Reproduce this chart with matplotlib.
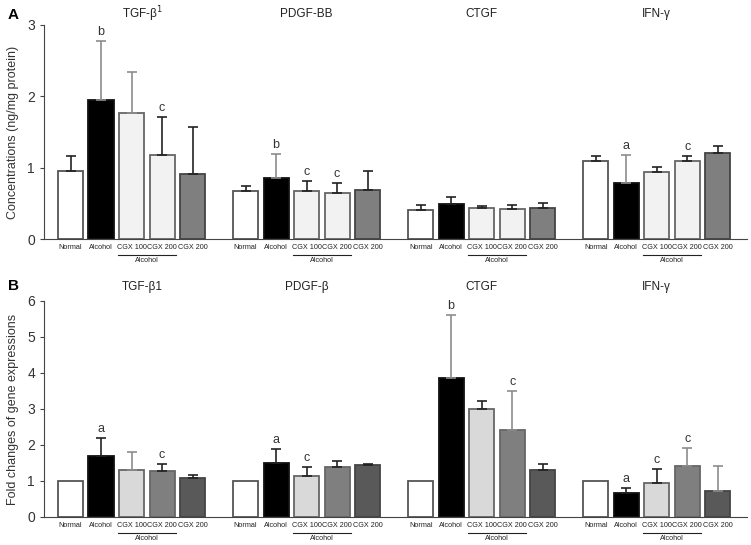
import matplotlib
matplotlib.use("Agg")
import matplotlib.pyplot as plt
import numpy as np

plt.rcParams['font.family'] = ['Liberation Sans', 'DejaVu Sans']

categories = ["Normal", "Alcohol", "CGX 100", "CGX 200", "CGX 200"]

# Panel A: protein concentrations (ng/mg protein)
a_titles = ["TGF-β$^1$", "PDGF-BB", "CTGF", "IFN-γ"]
a_mean = {
    "TGF-β1": [0.95, 1.95, 1.77, 1.18, 0.91],
    "PDGF-BB": [0.67, 0.855, 0.67, 0.65, 0.68],
    "CTGF": [0.40, 0.49, 0.43, 0.42, 0.44],
    "IFN-γ": [1.09, 0.79, 0.94, 1.09, 1.20],
}
a_top = {
    "TGF-β1": [1.16, 2.78, 2.34, 1.71, 1.57],
    "PDGF-BB": [0.74, 1.19, 0.81, 0.79, 0.96],
    "CTGF": [0.48, 0.59, 0.46, 0.48, 0.51],
    "IFN-γ": [1.16, 1.18, 1.01, 1.16, 1.30],
}
a_sig = {
    "TGF-β1": ["", "b", "", "c", ""],
    "PDGF-BB": ["", "b", "c", "c", ""],
    "CTGF": ["", "", "", "", ""],
    "IFN-γ": ["", "a", "", "c", ""],
}

# Panel B: fold changes of gene expressions
b_titles = ["TGF-β1", "PDGF-β", "CTGF", "IFN-γ"]
b_mean = {
    "TGF-β1": [1.0, 1.69, 1.31, 1.29, 1.08],
    "PDGF-β": [1.0, 1.51, 1.14, 1.40, 1.44],
    "CTGF": [1.0, 3.87, 3.01, 2.41, 1.31],
    "IFN-γ": [1.0, 0.68, 0.94, 1.42, 0.72],
}
b_top = {
    "TGF-β1": [1.0, 2.19, 1.80, 1.48, 1.17],
    "PDGF-β": [1.0, 1.88, 1.38, 1.55, 1.46],
    "CTGF": [1.0, 5.62, 3.21, 3.49, 1.47],
    "IFN-γ": [1.0, 0.81, 1.32, 1.93, 1.43],
}
b_sig = {
    "TGF-β1": ["", "a", "", "c", ""],
    "PDGF-β": ["", "a", "c", "", ""],
    "CTGF": ["", "b", "", "c", ""],
    "IFN-γ": ["", "a", "c", "c", ""],
}

a_colors = ["white", "black", "#f2f2f2", "#f2f2f2", "#7f7f7f"]
b_colors = ["white", "black", "#d9d9d9", "#7f7f7f", "#595959"]
edge_colors = ["#555555", "#111111", "#666666", "#666666", "#444444"]

GSTEP = 5.74
WIDTH = 0.82
SMALL_FS = 5.2

fig = plt.figure(figsize=(7.51, 5.45), dpi=100)
W, H = 751, 545


def make_axes(top_px, bottom_px):
    return fig.add_axes([44 / W, 1 - bottom_px / H, (747 - 44) / W, (bottom_px - top_px) / H])


def draw_panel(ax, titles, keys, means, tops, sigs, colors, ymax, ylabel, err_gray, unit_px,
               title_gap):
    px = 1.0 / unit_px  # data units per pixel
    for g, key in enumerate(keys):
        xs = g * GSTEP + np.arange(5)
        vals = means[key]
        ax.bar(xs, vals, width=WIDTH, color=colors, edgecolor=edge_colors,
               linewidth=1.3, zorder=2)
        for i, x in enumerate(xs):
            top = tops[key][i]
            if top > vals[i] + 1e-6:
                ec = "#8c8c8c" if (g, i) in err_gray else "#222222"
                ax.errorbar([x], [vals[i]], yerr=[[0], [top - vals[i]]], fmt="none",
                            ecolor=ec, elinewidth=1.2, capsize=3.5, capthick=1.2, zorder=3)
            s = sigs[key][i]
            if s:
                ax.text(x, top + 3 * px, s, ha="center", va="bottom",
                        fontsize=9, color="#333333")
        # category labels
        for i, x in enumerate(xs):
            ax.text(x, -5 * px, categories[i], ha="center", va="top",
                    fontsize=SMALL_FS, color="#222222", clip_on=False)
        # "Alcohol" bracket under CGX 100 / CGX 200
        ax.plot([xs[2] - 0.45, xs[3] + 0.45], [-16 * px] * 2, color="#222222",
                lw=0.8, clip_on=False)
        ax.text((xs[2] + xs[3]) / 2, -17.5 * px, "Alcohol", ha="center", va="top",
                fontsize=SMALL_FS, color="#222222", clip_on=False)
        # group title
        cx = xs[2] + (0.35 if g == 0 else 0.0)
        ax.text(cx, ymax + title_gap * px, titles[g], ha="center", va="center", fontsize=8.5,
                color="#222222", clip_on=False)
    ax.set_xlim(-0.869, 22.18)
    ax.set_ylim(0, ymax)
    ax.set_yticks(np.arange(0, ymax + 1))
    ax.set_xticks([])
    for sp in ["top", "right"]:
        ax.spines[sp].set_visible(False)
    ax.spines["left"].set_color("#444444")
    ax.spines["bottom"].set_color("#444444")
    ax.tick_params(axis="y", direction="out", length=3, labelsize=10,
                   colors="#444444", labelcolor="#333333")
    ax.set_ylabel(ylabel, fontsize=9, color="#333333", labelpad=6)


axA = make_axes(25, 239)
draw_panel(axA, a_titles, list(a_mean.keys()), a_mean, a_top, a_sig, a_colors, 3,
           "Concentrations (ng/mg protein)", {(0, 1), (0, 2), (1, 1), (3, 1)}, 214 / 3, 11)
axB = make_axes(301, 517)
draw_panel(axB, b_titles, list(b_mean.keys()), b_mean, b_top, b_sig, b_colors, 6,
           "Fold changes of gene expressions", {(0, 2), (2, 1), (2, 3), (3, 4), (3, 3)},
           216 / 6, 14)

fig.text(8 / W, 1 - 15 / H, "A", fontsize=11, fontweight="bold", va="center", ha="left")
fig.text(8 / W, 1 - 286 / H, "B", fontsize=11, fontweight="bold", va="center", ha="left")

fig.savefig("out.png", dpi=100)
